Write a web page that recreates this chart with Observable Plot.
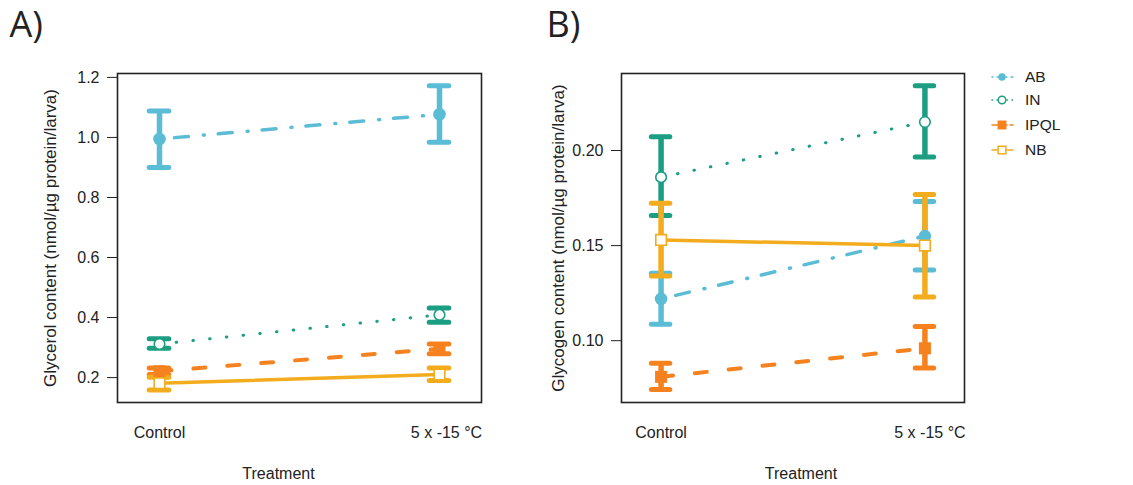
<!DOCTYPE html>
<html><head><meta charset="utf-8">
<script src="https://cdn.jsdelivr.net/npm/d3@7"></script>
<script src="https://cdn.jsdelivr.net/npm/@observablehq/plot@0.6"></script>
<style>
body{margin:0;background:#fff;}
#wrap{position:relative;width:1133px;height:485px;overflow:hidden;background:#fff;}
.panel{position:absolute;top:0;}
#legend{position:absolute;left:985px;top:60px;}
</style></head><body>
<div id="wrap"></div>
<script>
// ---------- data ----------
const treatments = ["Control", "5 x -15 °C"];
const populations = ["AB", "IN", "IPQL", "NB"];
const colors = ["#5bbcd6", "#1b9e82", "#f6821f", "#f3ac1e"];

// rows = populations (AB, IN, IPQL, NB), columns = treatments
const glycerolMean = [[0.995, 1.077], [0.312, 0.409], [0.221, 0.296], [0.181, 0.210]];
const glycerolLow  = [[0.900, 0.984], [0.298, 0.384], [0.210, 0.279], [0.159, 0.190]];
const glycerolHigh = [[1.088, 1.172], [0.329, 0.432], [0.232, 0.312], [0.201, 0.232]];
const glycerolTicks = [0.2, 0.4, 0.6, 0.8, 1.0, 1.2];

const glycogenMean = [[0.122, 0.155], [0.186, 0.215], [0.081, 0.096], [0.153, 0.150]];
const glycogenLow  = [[0.1087, 0.1372], [0.1658, 0.1966], [0.0743, 0.0857], [0.134, 0.123]];
const glycogenHigh = [[0.1354, 0.1732], [0.2072, 0.234], [0.0881, 0.1074], [0.1723, 0.1769]];
const glycogenTicks = [0.10, 0.15, 0.20];

// ---------- styles ----------
const dashes = ["1,14,14,15", "0.5,16.3", "12,22", null];
const lineWidths = [3.5, 3, 4, 3.5];
const symbols = ["circle", "circle", "square", "square"];
const dotR = [6.3, 5.3, 6.8, 6.0];
const filled = [true, false, true, false];
const capHalf = 0.035;

function buildRows(mean, low, high) {
  const rows = [];
  populations.forEach((p, i) => treatments.forEach((t, j) =>
    rows.push({pop: p, i, x: j + 1, mean: mean[i][j], low: low[i][j], high: high[i][j]})));
  return rows;
}

function panel(cfg) {
  const rows = buildRows(cfg.mean, cfg.low, cfg.high);
  const bars = [], lines = [], dots = [];
  populations.forEach((p, i) => {
    const d = rows.filter(r => r.pop === p);
    const c = colors[i];
    bars.push(Plot.ruleX(d, {x: "x", y1: "low", y2: "high", stroke: c, strokeWidth: 5.5}));
    bars.push(Plot.ruleY(d, {y: "low", x1: r => r.x - capHalf, x2: r => r.x + capHalf, stroke: c, strokeWidth: 5, strokeLinecap: "round"}));
    bars.push(Plot.ruleY(d, {y: "high", x1: r => r.x - capHalf, x2: r => r.x + capHalf, stroke: c, strokeWidth: 5, strokeLinecap: "round"}));
    lines.push(Plot.line(d, {x: "x", y: "mean", stroke: c, strokeWidth: lineWidths[i],
      strokeDasharray: dashes[i] || undefined, strokeLinecap: "round"}));
    dots.push(Plot.dot(d, {x: "x", y: "mean", symbol: symbols[i], r: dotR[i],
      fill: filled[i] ? c : "white", stroke: c, strokeWidth: filled[i] ? 0 : 1.6}));
  });
  return Plot.plot({
    width: cfg.width, height: 485,
    marginLeft: cfg.ml, marginRight: cfg.mr, marginTop: 73, marginBottom: 83,
    style: {fontFamily: "'Liberation Sans', Arial, sans-serif", fontSize: "16px", color: "#222", background: "transparent"},
    x: {domain: [0.85, 2.15]},
    y: {domain: cfg.domain},
    marks: [
      ...bars, ...lines, ...dots,
      Plot.frame({stroke: "#222", strokeWidth: 1.6}),
      Plot.axisY({ticks: cfg.ticks, tickFormat: cfg.fmt, tickSize: 10, tickPadding: 8, label: null, stroke: "#222"}),
      Plot.axisX({ticks: [1], tickFormat: d => treatments[d - 1], tickSize: 0, tickPadding: 24, label: null}),
      Plot.axisX({ticks: [2], tickFormat: d => treatments[d - 1], tickSize: 0, tickPadding: 24, label: null, dx: cfg.t2dx}),
      Plot.text([cfg.ylabel], {frameAnchor: "left", rotate: -90, dx: cfg.ylx, textAnchor: "middle", lineAnchor: "middle", fontSize: 17, fill: "#222"}),
      Plot.text(["Treatment"], {frameAnchor: "bottom", dy: 71, dx: cfg.tdx, textAnchor: "middle", lineAnchor: "middle", fontSize: 16, fill: "#222"}),
      Plot.text([cfg.tag], {frameAnchor: "top-left", dx: cfg.tagdx, dy: -48, textAnchor: "start", lineAnchor: "middle", fontSize: 36, fontFamily: "'Open Sans', sans-serif", fill: "#222"})
    ]
  });
}

const wrap = document.getElementById("wrap");
const a = panel({width: 540, ml: 117, mr: 59, domain: [0.117, 1.213], ticks: glycerolTicks, fmt: d3.format(".1f"),
  mean: glycerolMean, low: glycerolLow, high: glycerolHigh,
  ylabel: "Glycerol content (nmol/µg protein/larva)", ylx: -67, tdx: -21, t2dx: 7, tag: "A)", tagdx: -108});
a.classList.add("panel"); a.style.left = "0px";
wrap.appendChild(a);

const b = panel({width: 593, ml: 81, mr: 169, domain: [0.0675, 0.2405], ticks: glycogenTicks, fmt: d3.format(".2f"),
  mean: glycogenMean, low: glycogenLow, high: glycogenHigh,
  ylabel: "Glycogen content (nmol/µg protein/larva)", ylx: -63, tdx: 8, t2dx: 5, tag: "B)", tagdx: -75});
b.classList.add("panel"); b.style.left = "540px";
wrap.appendChild(b);

// ---------- legend ----------
const leg = d3.select(wrap).append("svg").attr("id", "legend").attr("width", 148).attr("height", 110);
const legDash = ["1,4,5,4", "0.5,4.5", "6,3", null];
const legY = [17, 40, 65, 90];
populations.forEach((p, i) => {
  const g = leg.append("g").attr("transform", `translate(0,${legY[i]})`);
  g.append("line").attr("x1", 7).attr("x2", 28).attr("y1", 0).attr("y2", 0)
    .attr("stroke", colors[i]).attr("stroke-width", 1.5).attr("stroke-linecap", "round")
    .attr("stroke-dasharray", legDash[i]);
  const sym = d3.symbol().type(symbols[i] === "circle" ? d3.symbolCircle : d3.symbolSquare)
    .size(i === 2 ? 80 : i === 3 ? 60 : 45)();
  g.append("path").attr("d", sym).attr("transform", "translate(17,0)")
    .attr("fill", filled[i] ? colors[i] : "white").attr("stroke", colors[i]).attr("stroke-width", filled[i] ? 0 : 1.5);
  g.append("text").attr("x", 40).attr("y", 0).attr("dy", "0.35em")
    .attr("font-family", "'Liberation Sans', Arial, sans-serif").attr("font-size", 15.5).attr("fill", "#222").text(p);
});
</script>
</body></html>
